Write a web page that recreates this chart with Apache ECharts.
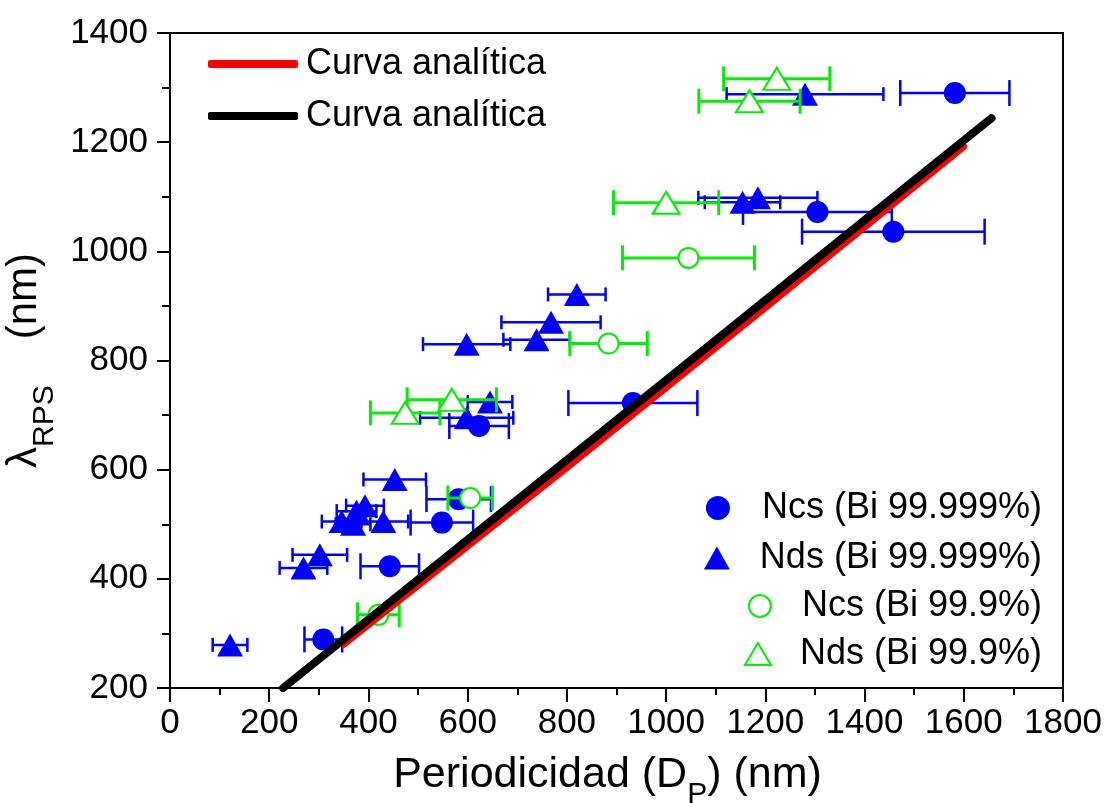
<!DOCTYPE html>
<html><head><meta charset="utf-8">
<script src="https://cdn.jsdelivr.net/npm/echarts@6/dist/echarts.min.js"></script>
<style>html,body{margin:0;padding:0;background:#fff}#c{width:1108px;height:803px}</style>
</head><body><div id="c"></div>
<script>
// ---- tick values ----
const xTickValues = [0, 200, 400, 600, 800, 1000, 1200, 1400, 1600, 1800];
const yTickValues = [200, 400, 600, 800, 1000, 1200, 1400];

// ---- analytic curves ----
const redCurveX = [350, 800, 1200, 1600];
const redCurveY = [280, 604, 897, 1192];
const blackCurveX = [228, 600, 1000, 1400, 1656];
const blackCurveY = [200, 472, 764, 1057, 1244];

// ---- Ncs (Bi 99.999%) : x, y, x-error ----
const ncsHiX   = [1582, 1305, 1458, 933, 623, 582, 548, 443, 309];
const ncsHiY   = [1290, 1072, 1036, 722, 680, 546, 503, 423, 289];
const ncsHiErr = [110,  150,  184,  130, 60,  65,  63,  59,  38];

// ---- Nds (Bi 99.999%) ----
const ndsHiX   = [1280, 1185, 1154, 820, 768, 739, 598, 645, 598, 453, 346, 369, 376, 393, 430, 302, 269, 121];
const ndsHiY   = [1288, 1098, 1090, 921, 870, 838, 830, 724, 695, 582, 505, 500, 524, 534, 505, 444, 420, 279];
const ndsHiErr = [158,  120,  76,   58,  100, 67,  88,  45,  94,  63,  40,  35,  40,  38,  50,  55,  48,  35];

// ---- Ncs (Bi 99.9%) ----
const ncsLoX   = [1045, 884, 605, 420];
const ncsLoY   = [988,  831, 548, 334];
const ncsLoErr = [133,  78,  45,  42];

// ---- Nds (Bi 99.9%) ----
const ndsLoX   = [1223, 1168, 1000, 568, 474];
const ndsLoY   = [1316, 1275, 1089, 728, 704];
const ndsLoErr = [107,  102,  106,  90,  70];

const FONT = 'Liberation Sans, Arial, Helvetica, sans-serif';
const BLUE = '#0000ff', GREEN = '#00ee00', RED = '#ff0000', BLACK = '#000000';

const zip3 = (a, b, c) => a.map((v, i) => [v, b[i], c[i]]);
const zip2 = (a, b) => a.map((v, i) => [v, b[i]]);

function errRender(capH, lw, color) {
  return function (params, api) {
    const x = api.value(0), y = api.value(1), e = api.value(2);
    const a = api.coord([x - e, y]), b = api.coord([x + e, y]);
    const style = { stroke: color, lineWidth: lw };
    return { type: 'group', children: [
      { type: 'line', shape: { x1: a[0], y1: a[1], x2: b[0], y2: b[1] }, style: style },
      { type: 'line', shape: { x1: a[0], y1: a[1] - capH / 2, x2: a[0], y2: a[1] + capH / 2 }, style: style },
      { type: 'line', shape: { x1: b[0], y1: b[1] - capH / 2, x2: b[0], y2: b[1] + capH / 2 }, style: style }
    ]};
  };
}
function errSeries(name, x, y, e, capH, lw, color, z) {
  return { name: name, type: 'custom', data: zip3(x, y, e), encode: { x: 0, y: 1 },
    renderItem: errRender(capH, lw, color), silent: true, z: z, clip: false };
}

const NAME_RED = 'Curva analítica (roja)';
const NAME_BLACK = 'Curva analítica (negra)';
const N1 = 'Ncs (Bi 99.999%)', N2 = 'Nds (Bi 99.999%)', N3 = 'Ncs (Bi 99.9%)', N4 = 'Nds (Bi 99.9%)';

function lineLegend(name, top) {
  return { data: [name], left: 208, top: top, padding: 0, icon: 'roundRect', itemWidth: 90, itemHeight: 8,
    selectedMode: false, formatter: () => 'Curva analítica',
    textStyle: { fontSize: 36, fontFamily: FONT, color: '#000', lineHeight: 40, padding: [0, 0, 0, 3] } };
}
function ptLegend(name, top, w, h, pad) {
  return { data: [name], right: 66, top: top, padding: 0, itemWidth: w, itemHeight: h, selectedMode: false,
    textStyle: { fontSize: 36, fontFamily: FONT, color: '#000', lineHeight: 40, padding: [0, 0, 0, pad] } };
}

const chart = echarts.init(document.getElementById('c'), null, { renderer: 'canvas' });
chart.setOption({
  backgroundColor: '#fff',
  animation: false,
  grid: { left: 170, right: 45, top: 33, bottom: 115, containLabel: false, outerBoundsMode: 'none',
    show: true, borderColor: '#000', borderWidth: 2, backgroundColor: 'transparent' },
  legend: [
    lineLegend(NAME_RED, 44),
    lineLegend(NAME_BLACK, 96),
    ptLegend(N1, 488, 24, 24, 27),
    ptLegend(N2, 538, 26, 23, 25),
    ptLegend(N3, 586, 22, 22, 26),
    ptLegend(N4, 634, 26, 22, 24)
  ],
  xAxis: {
    type: 'value', min: xTickValues[0], max: xTickValues[xTickValues.length - 1], interval: xTickValues[1] - xTickValues[0],
    name: '{a|Periodicidad (D}{s|P}{e|) (nm)}', nameLocation: 'middle', nameGap: 52,
    nameTextStyle: { rich: {
      a: { fontSize: 43, fontFamily: FONT, color: '#000', lineHeight: 70, verticalAlign: 'middle' },
      e: { fontSize: 43, fontFamily: FONT, color: '#000', lineHeight: 70, verticalAlign: 'middle', padding: [0, 18, 0, 0] },
      s: { fontSize: 30, fontFamily: FONT, color: '#000', verticalAlign: 'bottom' } } },
    axisLine: { show: true, onZero: false, lineStyle: { color: '#000', width: 2 } },
    axisTick: { show: true, length: 14, lineStyle: { color: '#000', width: 2 } },
    minorTick: { show: true, splitNumber: 2, length: 7, lineStyle: { color: '#000', width: 2 } },
    splitLine: { show: false }, minorSplitLine: { show: false },
    axisLabel: { fontSize: 35, fontFamily: FONT, color: '#000', margin: 18, formatter: v => String(v) }
  },
  yAxis: {
    type: 'value', min: yTickValues[0], max: yTickValues[yTickValues.length - 1], interval: yTickValues[1] - yTickValues[0],
    name: '{a|λ}{s|RPS}{a|(nm)}', nameLocation: 'middle', nameGap: 103, nameRotate: 90,
    nameTextStyle: { rich: {
      a: { fontSize: 42, fontFamily: FONT, color: '#000', lineHeight: 70, verticalAlign: 'middle' },
      s: { fontSize: 30, fontFamily: FONT, color: '#000', verticalAlign: 'bottom', padding: [0, 46, 0, 0] } } },
    axisLine: { show: true, onZero: false, lineStyle: { color: '#000', width: 2 } },
    axisTick: { show: true, length: 13, lineStyle: { color: '#000', width: 2 } },
    minorTick: { show: true, splitNumber: 2, length: 8, lineStyle: { color: '#000', width: 2 } },
    splitLine: { show: false }, minorSplitLine: { show: false },
    axisLabel: { fontSize: 35, fontFamily: FONT, color: '#000', margin: 22, formatter: v => String(v) }
  },
  series: [
    errSeries('errNcsHi', ncsHiX, ncsHiY, ncsHiErr, 26, 2.5, BLUE, 2),
    { name: N1, type: 'scatter', data: zip2(ncsHiX, ncsHiY), symbol: 'circle', symbolSize: 22,
      itemStyle: { color: BLUE, opacity: 1 }, z: 3 },
    errSeries('errNdsHi', ndsHiX, ndsHiY, ndsHiErr, 14, 2.5, BLUE, 4),
    { name: N2, type: 'scatter', data: zip2(ndsHiX, ndsHiY), symbol: 'triangle', symbolSize: [26, 23],
      itemStyle: { color: BLUE, opacity: 1 }, z: 5 },
    errSeries('errNcsLo', ncsLoX, ncsLoY, ncsLoErr, 25, 3, GREEN, 6),
    { name: N3, type: 'scatter', data: zip2(ncsLoX, ncsLoY), symbol: 'circle', symbolSize: 20,
      itemStyle: { color: '#fff', borderColor: GREEN, borderWidth: 2, opacity: 1 }, z: 7 },
    errSeries('errNdsLo', ndsLoX, ndsLoY, ndsLoErr, 25, 3, GREEN, 8),
    { name: N4, type: 'scatter', data: zip2(ndsLoX, ndsLoY), symbol: 'triangle', symbolSize: [27, 22],
      itemStyle: { color: '#fff', borderColor: GREEN, borderWidth: 2, opacity: 1 }, z: 9 },
    { name: NAME_RED, type: 'line', data: zip2(redCurveX, redCurveY), showSymbol: false, symbol: 'none',
      color: RED, lineStyle: { color: RED, width: 7, cap: 'round' }, itemStyle: { color: RED }, z: 10 },
    { name: NAME_BLACK, type: 'line', data: zip2(blackCurveX, blackCurveY), showSymbol: false, symbol: 'none',
      color: BLACK, lineStyle: { color: BLACK, width: 8, cap: 'round' }, itemStyle: { color: BLACK }, z: 11 }
  ]
});
</script></body></html>
